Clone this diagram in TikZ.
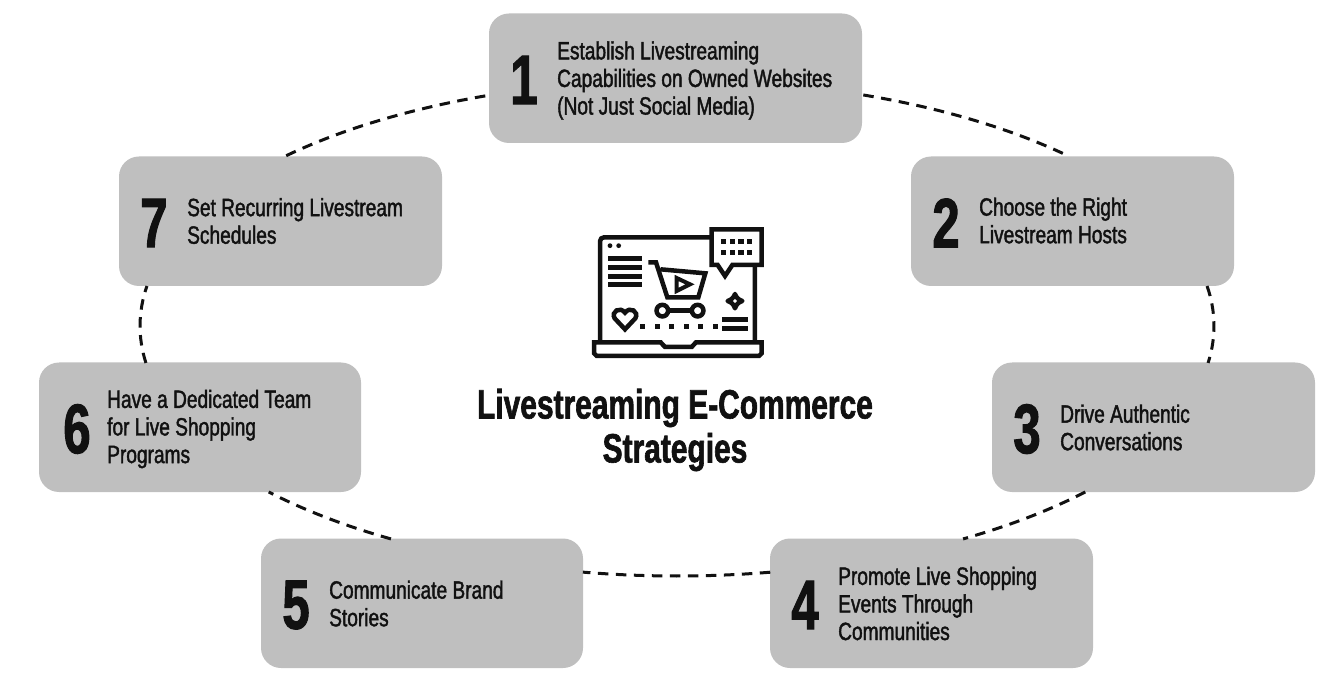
\documentclass[tikz,border=0pt]{standalone}
\usepackage{fontspec}
\newfontfamily\bodyfont[FakeStretch=0.765,FakeBold=1.6]{Liberation Sans}
\newfontfamily\numfont[FakeStretch=0.70,FakeBold=1.5]{Liberation Sans Bold}
\newfontfamily\titlefont[FakeStretch=0.73,FakeBold=1.5]{Liberation Sans Bold}
\definecolor{boxgray}{HTML}{BFBFBF}
\definecolor{ink}{HTML}{111111}
\tikzset{
  box/.style={fill=boxgray,rounded corners=20pt,minimum width=#1,minimum height=129.5pt,inner sep=0pt,outer sep=0pt},
  numlabel/.style={font=\numfont\fontsize{70}{70}\selectfont,text=ink,inner sep=0pt},
  steplabel/.style={font=\bodyfont\fontsize{25}{27.6}\selectfont,text=ink,align=left,inner sep=0pt},
  titlelabel/.style={font=\titlefont\fontsize{41}{44}\selectfont,text=ink,align=center,inner sep=0pt},
  ring/.style={draw=ink,line width=3pt,dash pattern=on 10.5pt off 7.5pt},
  icon/.style={draw=ink,line width=4.5pt,line join=miter},
}
% name, start angle, end angle, x radius, centre y, y radius
\newcommand{\ringseg}[6]{%
  \coordinate (#1) at ({677+#4*cos(#2)},{#5+#6*sin(#2)});
  \draw[ring] (#1) arc[start angle=#2,end angle=#3,x radius=#4 pt,y radius=#6 pt];}
\begin{document}
\begin{tikzpicture}[x=1pt,y=1pt]
\useasboundingbox (0,0) rectangle (1332,678);
% boxes
\node[box=373pt,anchor=south west] (n1) at (489,535) {};
\node[box=323pt,anchor=south west] (n2) at (911,392) {};
\node[box=323pt,anchor=south west] (n3) at (992,186) {};
\node[box=323pt,anchor=south west] (n4) at (770,10) {};
\node[box=322pt,anchor=south west] (n5) at (261,10) {};
\node[box=322pt,anchor=south west] (n6) at (39,186) {};
\node[box=323pt,anchor=south west] (n7) at (119,392) {};
% ring
\ringseg{r12}{69.7}{43.3}{537}{357}{241}
\ringseg{r23}{9.2}{-8.5}{537}{352}{250}
\ringseg{r34}{-41.6}{-58.4}{546}{352}{250}
\ringseg{r45}{-80}{-100.1}{537}{352}{250}
\ringseg{r56}{-121.6}{-138.4}{546}{352}{250}
\ringseg{r67}{-171.5}{-189.2}{537}{352}{250}
\ringseg{r71}{136.7}{110.3}{537}{357}{241}
% numbers
\node[numlabel] (d1) at (524,598) {1};
\node[numlabel] (d2) at (946,455) {2};
\node[numlabel] (d3) at (1027,249) {3};
\node[numlabel] (d4) at (805,73) {4};
\node[numlabel] (d5) at (296,73) {5};
\node[numlabel] (d6) at (77,249) {6};
\node[numlabel] (d7) at (154,455) {7};
% texts
\node[steplabel,anchor=west] (t1) at (557,597.5) {Establish Livestreaming\\Capabilities on Owned Websites\\(Not Just Social Media)};
\node[steplabel,anchor=west] (t2) at (979,457.5) {Choose the Right\\Livestream Hosts};
\node[steplabel,anchor=west] (t3) at (1060,250.5) {Drive Authentic\\Conversations};
\node[steplabel,anchor=west] (t4) at (838,74.5) {Promote Live Shopping\\Events Through\\Communities};
\node[steplabel,anchor=west] (t5) at (329,74.5) {Communicate Brand\\Stories};
\node[steplabel,anchor=west] (t6) at (107,249) {Have a Dedicated Team\\for Live Shopping\\Programs};
\node[steplabel,anchor=west] (t7) at (187,457) {Set Recurring Livestream\\Schedules};
\node[titlelabel] (title) at (675,248) {Livestreaming E-Commerce\\Strategies};
% icon
\begin{scope}[shift={(570,468)},x=0.3333pt,y=-0.3333pt]
  \draw[icon,rounded corners=4pt] (90,395) -- (90,82) -- (555,82) -- (555,395);
  \draw[icon,fill=white] (80,397) -- (272,397) -- (285,411) -- (365,411) -- (378,397) -- (575,397) -- (575,430) -- (567,438) -- (80,438) -- (72,430) -- (72,397) -- cycle;
  \draw[icon,fill=white] (425,58) -- (575,58) -- (575,165) -- (487,165) -- (465,198) -- (443,165) -- (425,165) -- cycle;
  \foreach \x in {461,487,513,539} {
    \fill[ink] (\x-8,88) rectangle (\x+8,103);
    \fill[ink] (\x-8,120) rectangle (\x+8,135);
  }
  \fill[ink] (120,107) circle[radius=2.4pt];
  \fill[ink] (146,107) circle[radius=2.4pt];
  \foreach \y in {147,173,199,225} \fill[ink] (114,\y-7.5) rectangle (216,\y+7.5);
  % cart
  \draw[icon] (235,157) -- (258,157) -- (292,262) -- (385,262) -- (406,190) -- (272,178);
  \draw[icon,line width=4pt] (320,204) -- (320,243) -- (360,223) -- cycle;
  \draw[icon] (277,302) circle[radius=5.8pt];
  \draw[icon] (383,302) circle[radius=5.8pt];
  \draw[icon] (294,302) -- (366,302);
  % heart
  \draw[icon] (165,358) -- (134,325) .. controls (122,305) and (150,288) .. (165,308) .. controls (180,288) and (208,305) .. (196,325) -- cycle;
  % star
  \draw[icon,line join=round] (495,252) .. controls (499,263) and (505,269) .. (517,273) .. controls (505,277) and (499,283) .. (495,295) .. controls (491,283) and (485,277) .. (473,273) .. controls (485,269) and (491,263) .. (495,252) -- cycle;
  \fill[ink] (457,322) rectangle (533,337);
  \fill[ink] (457,348) rectangle (533,363);
  \foreach \x in {218,262,306,350,393,437} \fill[ink] (\x-7.5,343) rectangle (\x+7.5,358);
\end{scope}
\end{tikzpicture}
\end{document}
